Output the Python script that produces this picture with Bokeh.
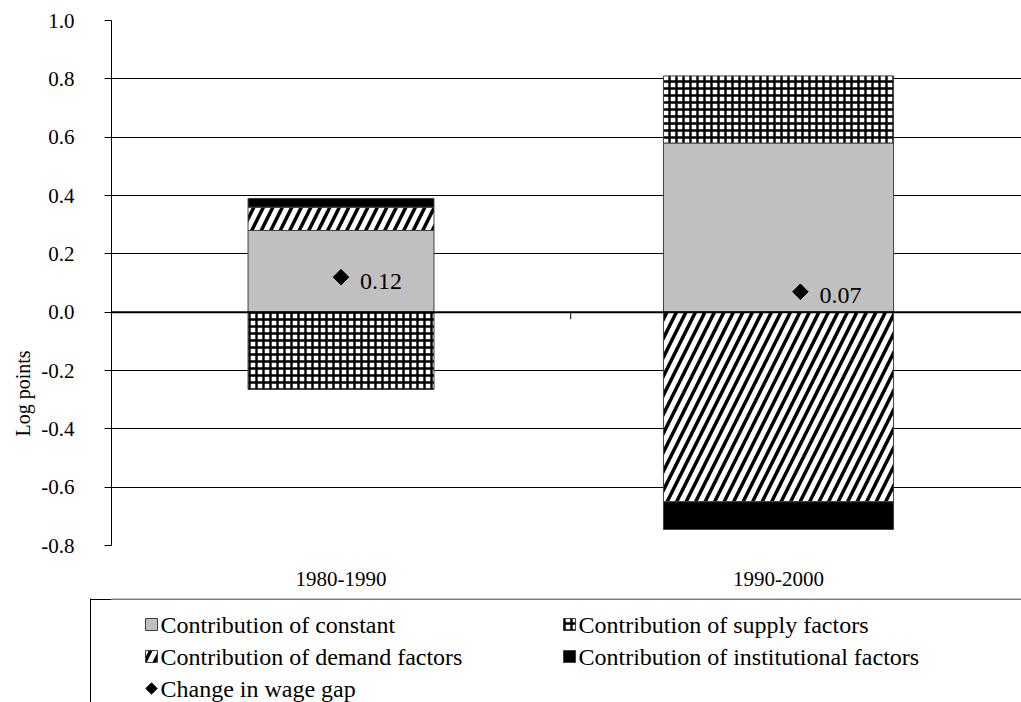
import numpy as np
from bokeh.plotting import figure
from bokeh.layouts import column
from bokeh.models import (ColumnDataSource, Range1d, FixedTicker, NumeralTickFormatter, Span,
                          Title, LinearAxis)
from bokeh.core.properties import value
from bokeh.embed import file_html
from bokeh.resources import INLINE

# ---------------- data ----------------
periods = ["1980-1990", "1990-2000"]
contrib_constant = [0.28, 0.58]
contrib_supply = [-0.265, 0.23]
contrib_demand = [0.08, -0.65]
contrib_institutional = [0.03, -0.095]
wage_gap_change = [0.12, 0.07]
wage_gap_text = ["0.12", "0.07"]

series_names = ["Contribution of constant", "Contribution of supply factors",
                "Contribution of demand factors", "Contribution of institutional factors"]
marker_name = "Change in wage gap"
y_ticks = [-0.8, -0.6, -0.4, -0.2, 0.0, 0.2, 0.4, 0.6, 0.8, 1.0]

# ---------------- layout / style ----------------
FONT = "Liberation Serif"
cat_x = [i + 1 for i in range(len(periods))]
bar_widths = [0.425, 0.526]
marker_shift = [0.0, 0.05]

p = figure(width=1021, height=598, output_backend="svg", toolbar_location=None,
           x_range=Range1d(0.4754, 2.5554), y_range=Range1d(-0.8, 1.0),
           min_border_left=111, min_border_right=0, min_border_top=20, min_border_bottom=53)
p.outline_line_color = None
p.background_fill_color = "white"
p.border_fill_color = "white"

styles = [
    dict(fill_color="#C0C0C0", line_color="#404040"),
    dict(fill_color="white", line_color="#404040", hatch_pattern="cross",
         hatch_color="black", hatch_scale=7, hatch_weight=2.4),
    dict(fill_color="white", line_color="#404040", hatch_pattern="right_diagonal_line",
         hatch_color="black", hatch_scale=19, hatch_weight=3.5),
    dict(fill_color="black", line_color="#404040"),
]

series = [contrib_constant, contrib_supply, contrib_demand, contrib_institutional]
pos = np.zeros(len(periods))
neg = np.zeros(len(periods))
for vals, st in zip(series, styles):
    v = np.array(vals, dtype=float)
    bottom = np.where(v >= 0, pos, neg)
    top = bottom + v
    pos = np.where(v >= 0, top, pos)
    neg = np.where(v < 0, top, neg)
    src = ColumnDataSource(dict(x=cat_x, w=bar_widths, bottom=bottom, top=top))
    p.vbar(x="x", width="w", bottom="bottom", top="top", source=src, line_width=1, **st)

p.add_layout(Span(location=0, dimension="width", line_color="black", line_width=2))

# small category-boundary tick on the zero line
bx = (cat_x[0] + cat_x[1]) / 2 + marker_shift[1] / 2
p.segment(x0=[bx], y0=[0], x1=[bx], y1=[-0.024], line_color="black", line_width=1)

mx = [c + s for c, s in zip(cat_x, marker_shift)]
msrc = ColumnDataSource(dict(x=mx, y=wage_gap_change, t=wage_gap_text))
p.scatter(x="x", y="y", source=msrc, marker="square", angle=np.pi / 4, size=11,
          fill_color="black", line_color="black")
p.text(x="x", y="y", text="t", source=msrc, x_offset=19, y_offset=4,
       text_baseline="middle", text_align="left", text_font=value(FONT),
       text_font_size="24px", text_color="black")

# axes
p.yaxis.ticker = FixedTicker(ticks=y_ticks)
p.yaxis.formatter = NumeralTickFormatter(format="0.0")
p.yaxis.major_tick_out = 7
p.yaxis.major_tick_in = 0
p.yaxis.minor_tick_line_color = None
p.yaxis.axis_line_color = "black"
p.yaxis.major_tick_line_color = "black"
p.yaxis.major_label_standoff = 30
p.yaxis.major_label_text_font = FONT
p.yaxis.major_label_text_font_size = "21px"
p.yaxis.major_label_text_color = "black"

p.xaxis.ticker = FixedTicker(ticks=cat_x)
p.xaxis.major_label_overrides = {c: lab for c, lab in zip(cat_x, periods)}
p.xaxis.axis_line_color = None
p.xaxis.major_tick_line_color = None
p.xaxis.minor_tick_line_color = None
p.xaxis.major_label_standoff = 20
p.xaxis.major_label_text_font = FONT
p.xaxis.major_label_text_font_size = "21px"
p.xaxis.major_label_text_color = "black"

p.xgrid.grid_line_color = None
p.ygrid.ticker = FixedTicker(ticks=y_ticks)
p.ygrid.grid_line_color = "black"
p.ygrid.grid_line_width = 1

p.add_layout(Title(text="Log points", align="left", offset=109, standoff=10,
                   text_font=FONT, text_font_size="20px", text_font_style="normal",
                   text_color="black"), "left")

# ---------------- legend strip ----------------
q = figure(width=1021, height=104, output_backend="svg", toolbar_location=None,
           x_range=Range1d(111, 1021), y_range=Range1d(104, 0),
           x_axis_location=None, y_axis_location=None,
           min_border_left=111, min_border_right=0, min_border_top=0, min_border_bottom=0)
q.outline_line_color = None
q.xgrid.grid_line_color = None
q.ygrid.grid_line_color = None
q.background_fill_color = "white"
q.border_fill_color = "white"

# legend frame: inner 21px spacer axis, outer axis whose line is the box's left edge
spacer_axis = LinearAxis(ticker=FixedTicker(ticks=[103.9]), major_tick_out=21, major_tick_in=0,
                         major_label_standoff=0, major_label_text_font_size="0px",
                         major_label_text_alpha=0, axis_line_color=None,
                         major_tick_line_color="white", minor_tick_line_color=None)
edge_axis = LinearAxis(ticker=FixedTicker(ticks=[0.5]), major_tick_out=0, major_tick_in=21,
                       major_label_standoff=0, major_label_text_font_size="0px",
                       major_label_text_alpha=0, axis_line_color="black",
                       major_tick_line_color="black", minor_tick_line_color=None)
q.add_layout(spacer_axis, "left")
q.add_layout(edge_axis, "left")
q.add_layout(Span(location=0.5, dimension="width", line_color="black", line_width=1))

leg_cols = [145, 563]
leg_rows = [26, 58, 90]
slots = [(0, 0), (1, 0), (0, 1), (1, 1)]
for name, st, (c, r) in zip(series_names, styles, slots):
    q.rect(x=[leg_cols[c] + 6], y=[leg_rows[r]], width=12, height=12, line_width=1, **st)
    q.text(x=[leg_cols[c] + 15], y=[leg_rows[r]], text=[name], text_baseline="middle",
           text_font=value(FONT), text_font_size="24px", text_color="black")
q.scatter(x=[leg_cols[0] + 6], y=[leg_rows[2]], marker="square", angle=np.pi / 4, size=8,
          fill_color="black", line_color="black")
q.text(x=[leg_cols[0] + 15], y=[leg_rows[2]], text=[marker_name], text_baseline="middle",
       text_font=value(FONT), text_font_size="24px", text_color="black")

layout = column(p, q, spacing=0)
open("out.html", "w").write(file_html(layout, INLINE))
